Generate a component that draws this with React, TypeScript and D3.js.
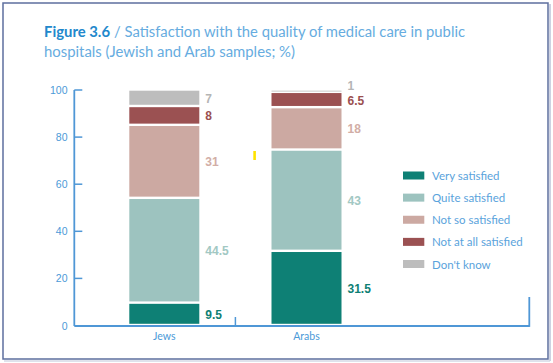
import React from "react";
import * as d3 from "d3";

const categories = ["Jews", "Arabs"];
const seriesNames = ["Very satisfied", "Quite satisfied", "Not so satisfied", "Not at all satisfied", "Don't know"];
const verySatisfied = [9.5, 31.5];
const quiteSatisfied = [44.5, 43];
const notSoSatisfied = [31, 18];
const notAtAllSatisfied = [8, 6.5];
const dontKnow = [7, 1];
const yTicks = [0, 20, 40, 60, 80, 100];

const fills = ["#0e8075", "#9dc3bf", "#cca9a2", "#9b5152", "#bdbdbd"];
const labelColors = ["#0e7f74", "#a2c8c3", "#d2aea6", "#9b4f50", "#b5b5b5"];

const W = 553;
const H = 363;

export default function App() {
  const series = [verySatisfied, quiteSatisfied, notSoSatisfied, notAtAllSatisfied, dontKnow];
  const table = categories.map((c, i) => {
    const row: any = { cat: c };
    seriesNames.forEach((s, k) => (row[s] = series[k][i]));
    return row;
  });
  const stacked = d3.stack().keys(seriesNames)(table);

  const y = d3.scaleLinear().domain([0, 100]).range([325, 89.5]);
  const x = d3.scalePoint().domain(categories).range([164.3, 306.5]);
  const barW = 70;
  const axisX = 74.3;
  const axisY = 326;
  const axisColor = "#4f97d6";
  const midTick = ((x("Jews") as number) + (x("Arabs") as number)) / 2;

  const legendY = d3.scaleLinear().domain([0, 4]).range([175.5, 264]);

  return (
    <svg width={W} height={H} style={{ position: "absolute", left: 0, top: 0 }} xmlns="http://www.w3.org/2000/svg">
      <rect x={0} y={0} width={W} height={H} fill="#ffffff" />
      {/* frame */}
      <line x1={550} y1={4} x2={550} y2={361} stroke="#cdd2e2" strokeWidth={2} />
      <line x1={4} y1={361} x2={550} y2={361} stroke="#d5d9e6" strokeWidth={1.5} />
      <rect x={3} y={3} width={545} height={356} fill="none" stroke="#5d6f9e" strokeWidth={1.5} />

      {/* title */}
      <text x={44} y={36.5} fontFamily="Lato, 'Open Sans', sans-serif" fontWeight="bold" fontSize={15.5}
        fill="#2288cc" textLength={66} lengthAdjust="spacingAndGlyphs">Figure 3.6</text>
      <text x={114} y={36.5} fontFamily="Lato, 'Open Sans', sans-serif" fontSize={15.5}
        fill="#66ace0" textLength={351} lengthAdjust="spacingAndGlyphs">/ Satisfaction with the quality of medical care in public</text>
      <text x={44} y={57} fontFamily="Lato, 'Open Sans', sans-serif" fontSize={15.5}
        fill="#66ace0" textLength={251} lengthAdjust="spacingAndGlyphs">hospitals (Jewish and Arab samples; %)</text>

      {/* bars */}
      {stacked.map((layer, k) => (
        <g key={layer.key}>
          {layer.map((d, i) => {
            const cx = x(categories[i]) as number;
            const top = y(d[1]) + 1.2;
            const bot = y(d[0]) - 1.2;
            return (
              <rect key={i} x={cx - barW / 2} y={top} width={barW} height={Math.max(0.8, bot - top)} fill={fills[k]} />
            );
          })}
        </g>
      ))}

      {/* value labels */}
      {stacked.map((layer, k) => (
        <g key={"l" + layer.key}>
          {layer.map((d, i) => {
            const cx = x(categories[i]) as number;
            const v = d[1] - d[0];
            let cy = (y(d[0]) + y(d[1])) / 2 + 1;
            if (v < 3) cy -= 5.5;
            return (
              <text key={i} x={cx + barW / 2 + 6} y={cy} dominantBaseline="central"
                fontFamily="'Liberation Sans', Arial, sans-serif" fontWeight="bold" fontSize={12} fill={labelColors[k]}>
                {String(v)}
              </text>
            );
          })}
        </g>
      ))}

      {/* y axis */}
      <line x1={axisX} y1={y(100) + 0.5} x2={axisX} y2={axisY} stroke={axisColor} strokeWidth={1.8} />
      {yTicks.map((t) => (
        <g key={t}>
          {t > 0 && <line x1={axisX} y1={y(t) + 0.5} x2={axisX + 8} y2={y(t) + 0.5} stroke={axisColor} strokeWidth={1.5} />}
          <text x={67.5} y={t === 0 ? axisY : y(t) + 0.5} textAnchor="end" dominantBaseline="central"
            fontFamily="'Liberation Sans', Arial, sans-serif" fontSize={10.5} fill="#4b9ad8">{t}</text>
        </g>
      ))}

      {/* x axis */}
      <line x1={axisX} y1={axisY} x2={529.3} y2={axisY} stroke={axisColor} strokeWidth={1.8} />
      <line x1={midTick} y1={axisY} x2={midTick} y2={317} stroke={axisColor} strokeWidth={1.5} />
      <line x1={529.3} y1={axisY + 0.9} x2={529.3} y2={297} stroke={axisColor} strokeWidth={1.8} />
      {categories.map((c) => (
        <text key={c} x={x(c) as number} y={340} textAnchor="middle"
          fontFamily="Lato, 'Open Sans', sans-serif" fontSize={10.5} fill="#4b9ad8">{c}</text>
      ))}

      {/* stray mark */}
      <rect x={253.3} y={151} width={2.6} height={9} fill="#ffe300" />

      {/* legend */}
      {seriesNames.map((s, k) => (
        <g key={s}>
          <rect x={403} y={legendY(k) - 4} width={21.3} height={8} fill={fills[k]} />
          <text x={432} y={legendY(k)} dominantBaseline="central"
            fontFamily="Lato, 'Open Sans', sans-serif" fontSize={11.5} fill="#5aa3dc">{s}</text>
        </g>
      ))}
    </svg>
  );
}
